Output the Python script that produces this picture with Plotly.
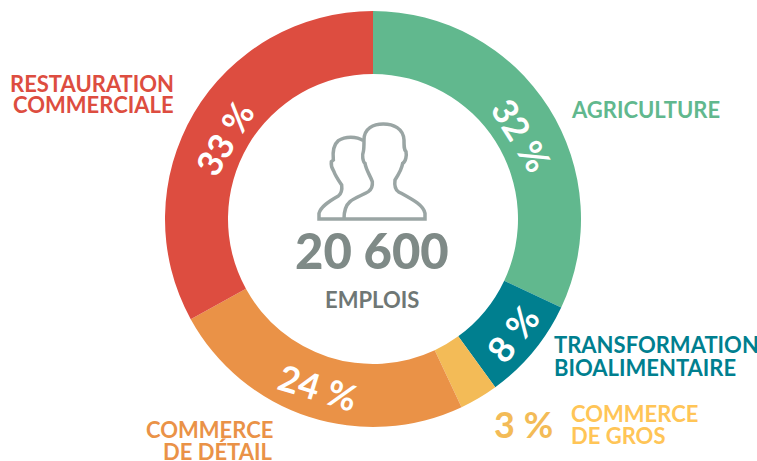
import plotly.graph_objects as go

W, H = 757, 461
FONT = "Lato"

# ring position in pixels of the picture
CX, CY = 373, 219
R_OUT = 208
R_IN = 145

categories = ["AGRICULTURE", "TRANSFORMATION BIOALIMENTAIRE", "COMMERCE DE GROS", "COMMERCE DE DÉTAIL", "RESTAURATION COMMERCIALE"]
shares = [32, 8, 3, 24, 33]
colors = ["#61b88e", "#007f8f", "#f3bb57", "#ea9247", "#dd4d40"]


def px(x):
    return x / W


def py(y):
    return 1 - y / H


def label(x, y, text, color, size, xanchor="center", angle=0, weight="bold"):
    return dict(x=px(x), y=py(y), xref="paper", yref="paper", text=text, showarrow=False,
                xanchor=xanchor, yanchor="middle", textangle=angle,
                font=dict(family=FONT, size=size, color=color, weight=weight))


def path(parts):
    # parts are pixel positions, turned into paper coordinates
    out = []
    for cmd, pts in parts:
        xy = " ".join(f"{px(300 + a / 3):.5f},{py(110 + b / 3):.5f}" for a, b in pts)
        out.append(cmd + xy)
    return " ".join(out)


front = [("M", [(132, 327)]), ("L", [(375, 327)]), ("L", [(375, 310)]),
         ("C", [(370, 285), (340, 270), (295, 245)]), ("C", [(285, 238), (283, 225), (285, 210)]),
         ("C", [(295, 195), (305, 180), (308, 160)]), ("C", [(318, 155), (320, 135), (318, 125)]),
         ("C", [(312, 120), (312, 110), (312, 90)]), ("C", [(310, 55), (280, 42), (250, 42)]),
         ("C", [(220, 42), (192, 55), (192, 90)]), ("C", [(192, 110), (192, 118), (190, 125)]),
         ("C", [(186, 135), (188, 155), (195, 160)]), ("C", [(198, 180), (210, 195), (217, 215)]),
         ("C", [(218, 225), (215, 238), (205, 245)]), ("C", [(190, 255), (165, 262), (150, 275)]),
         ("C", [(135, 288), (132, 305), (132, 327)])]
back = [("M", [(132, 327)]), ("L", [(57, 327)]), ("L", [(57, 310)]),
        ("C", [(62, 290), (85, 275), (115, 258)]), ("C", [(125, 250), (127, 240), (125, 225)]),
        ("C", [(115, 210), (105, 195), (102, 185)]), ("C", [(98, 178), (92, 170), (94, 155)]),
        ("L", [(100, 150)]), ("C", [(98, 130), (100, 105), (115, 92)]),
        ("C", [(135, 78), (170, 78), (190, 92)])]

fig = go.Figure(go.Pie(
    labels=categories,
    values=shares,
    sort=False,
    direction="clockwise",
    rotation=0,
    hole=R_IN / R_OUT,
    marker=dict(colors=colors, line=dict(width=0)),
    textinfo="none",
    hoverinfo="label+percent",
    domain=dict(x=[px(CX - R_OUT), px(CX + R_OUT)], y=[py(CY + R_OUT), py(CY - R_OUT)]),
    showlegend=False,
))

LABEL = 22
annotations = [
    label(522, 135, f"{shares[0]} %", "white", 35, angle=58),
    label(512, 334, f"{shares[1]} %", "white", 36, angle=-52),
    label(523, 424, f"{shares[2]} %", "#f3bb57", 36),
    label(318, 387, f"{shares[3]} %", "white", 36, angle=17),
    label(224, 138, f"{shares[4]} %", "white", 35, angle=-59),
    label(569, 110, "AGRICULTURE", "#61b88e", LABEL, xanchor="left"),
    label(552, 344, "TRANSFORMATION", "#007f8f", LABEL, xanchor="left"),
    label(552, 367, "BIOALIMENTAIRE", "#007f8f", LABEL, xanchor="left"),
    label(569, 413, "COMMERCE", "#ffc557", LABEL, xanchor="left"),
    label(569, 435, "DE GROS", "#ffc557", LABEL, xanchor="left"),
    label(275, 429, "COMMERCE", "#ea9247", LABEL, xanchor="right"),
    label(275, 451, "DE DÉTAIL", "#ea9247", LABEL, xanchor="right"),
    label(176, 83, "RESTAURATION", "#dd4d40", LABEL, xanchor="right"),
    label(176, 105, "COMMERCIALE", "#dd4d40", LABEL, xanchor="right"),
    label(372, 250, "20 600", "#7f8a87", 49, weight=900),
    label(372, 299, "EMPLOIS", "#6f7775", 22),
]

icon_line = dict(color="#9aa5a4", width=3.5)
fig.update_layout(
    width=W,
    height=H,
    margin=dict(l=0, r=0, t=0, b=0),
    paper_bgcolor="white",
    annotations=annotations,
    shapes=[
        dict(type="path", xref="paper", yref="paper", path=path(front), line=icon_line),
        dict(type="path", xref="paper", yref="paper", path=path(back), line=icon_line),
    ],
)

# the page's default body margin would push the figure 8px down and right
fig.write_html("out.html", config=dict(displayModeBar=False),
               post_script="document.body.style.margin='0';")
